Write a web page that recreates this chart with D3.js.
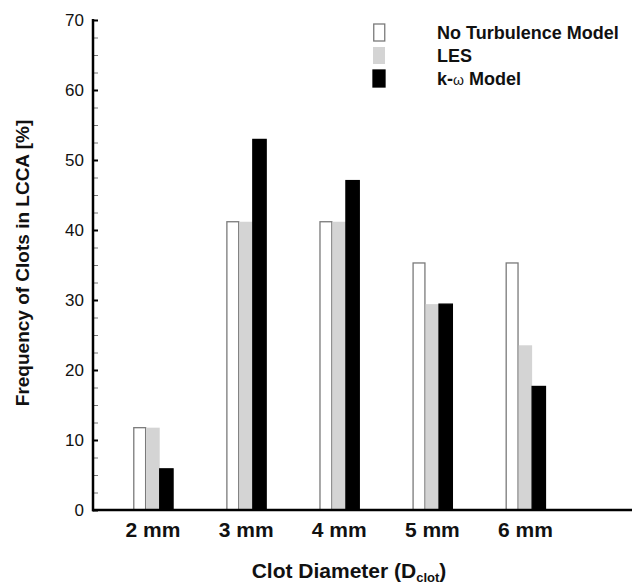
<!DOCTYPE html>
<html>
<head>
<meta charset="utf-8">
<script src="https://cdn.jsdelivr.net/npm/d3@7"></script>
<style>
  html, body { margin: 0; padding: 0; background: #fff; }
  svg text { font-family: "Liberation Sans", Arial, sans-serif; }
</style>
</head>
<body>
<svg id="chart" width="632" height="584"></svg>
<script>
// datos del grafico (frecuencia en %)
const categories = ["2 mm", "3 mm", "4 mm", "5 mm", "6 mm"];
const seriesNames = ["No Turbulence Model", "LES", "k-\u03c9 Model"];
const noTurbulence = [11.76, 41.18, 41.18, 35.29, 35.29];
const les = [11.76, 41.18, 41.18, 29.41, 23.53];
const kOmega = [5.88, 52.94, 47.06, 29.41, 17.65];
const yTicks = [0, 10, 20, 30, 40, 50, 60, 70];

const seriesValues = [noTurbulence, les, kOmega];
const fills = ["#ffffff", "#d4d4d4", "#000000"];
const strokes = ["#7a7a7a", "none", "#000000"];

const svg = d3.select("#chart");

const y = d3.scaleLinear().domain([0, 70]).range([510, 20]);
const x = d3.scaleBand().domain(categories)
    .range([106.5, 572])
    .paddingInner(0.57)
    .paddingOuter(0.285);
const xs = d3.scaleBand().domain(seriesNames).range([0, x.bandwidth()]);

// barras
const groups = svg.append("g")
    .selectAll("g")
    .data(categories)
    .join("g")
    .attr("transform", d => `translate(${x(d)},0)`);

groups.selectAll("rect")
    .data((c, i) => seriesNames.map((s, k) => ({ s, k, v: seriesValues[k][i] })))
    .join("rect")
    .attr("x", d => xs(d.s) + (d.k === 0 ? 0.75 : 0))
    .attr("y", d => y(d.v))
    .attr("width", d => xs.bandwidth() - (d.k === 0 ? 1.5 : 0))
    .attr("height", d => y(0) - y(d.v))
    .attr("fill", d => fills[d.k])
    .attr("stroke", d => strokes[d.k])
    .attr("stroke-width", 1.3);

// eje Y: ticks menores hacia dentro
const minorTicks = d3.range(0, 70.01, 2.5).filter(v => v % 10 !== 0);
svg.append("g")
    .attr("transform", "translate(93,0)")
    .call(d3.axisLeft(y).tickValues(minorTicks).tickSize(-5).tickFormat(""))
    .call(g => g.select(".domain").remove())
    .call(g => g.selectAll("line").attr("stroke", "#777").attr("stroke-width", 1));

svg.append("g")
    .attr("transform", "translate(93,0)")
    .call(d3.axisLeft(y).tickValues(yTicks).tickSize(-5).tickPadding(9))
    .call(g => g.select(".domain").remove())
    .call(g => g.selectAll("line").attr("stroke", "#000").attr("stroke-width", 2))
    .call(g => g.selectAll("text")
        .attr("font-size", 17)
        .attr("font-family", "Liberation Sans, Arial, sans-serif")
        .attr("fill", "#111"));

// lineas de los ejes
svg.append("line")
    .attr("x1", 93).attr("x2", 93)
    .attr("y1", y(70) - 1).attr("y2", y(0) + 1.25)
    .attr("stroke", "#000").attr("stroke-width", 2.5);
svg.append("line")
    .attr("x1", 92).attr("x2", 632)
    .attr("y1", y(0)).attr("y2", y(0))
    .attr("stroke", "#000").attr("stroke-width", 2.5);

// etiquetas X
svg.append("g")
    .selectAll("text")
    .data(categories)
    .join("text")
    .attr("x", d => x(d) + x.bandwidth() / 2)
    .attr("y", 537)
    .attr("text-anchor", "middle")
    .attr("font-size", 21)
    .attr("font-weight", "bold")
    .attr("fill", "#111")
    .text(d => d);

// titulos
const xt = svg.append("text")
    .attr("x", 349)
    .attr("y", 578)
    .attr("text-anchor", "middle")
    .attr("font-size", 21)
    .attr("font-weight", "bold")
    .attr("fill", "#111");
xt.append("tspan").text("Clot Diameter (D");
xt.append("tspan").attr("font-size", 13).attr("dy", 4).text("clot");
xt.append("tspan").attr("dy", -4).text(")");

svg.append("text")
    .attr("transform", "translate(29,263) rotate(-90)")
    .attr("text-anchor", "middle")
    .attr("font-size", 19)
    .attr("font-weight", "bold")
    .attr("fill", "#111")
    .text("Frequency of Clots in LCCA [%]");

// leyenda
const legend = svg.append("g")
    .selectAll("g")
    .data(seriesNames)
    .join("g")
    .attr("transform", (d, i) => `translate(373,${24 + i * 23})`);

legend.append("rect")
    .attr("x", (d, i) => i === 0 ? 0.75 : 0)
    .attr("width", (d, i) => i === 0 ? 11 : 12)
    .attr("height", 17)
    .attr("fill", (d, i) => fills[i])
    .attr("stroke", (d, i) => strokes[i])
    .attr("stroke-width", 1.3);

legend.append("text")
    .attr("x", 64)
    .attr("y", 14.5)
    .attr("font-size", 18)
    .attr("font-weight", "bold")
    .attr("fill", "#111")
    .each(function (d) {
        const t = d3.select(this);
        if (d.includes("\u03c9")) {
            t.append("tspan").text("k-");
            t.append("tspan").attr("font-size", 14).attr("font-weight", "normal").text("\u03c9");
            t.append("tspan").text(" Model");
        } else {
            t.text(d);
        }
    });
</script>
</body>
</html>
